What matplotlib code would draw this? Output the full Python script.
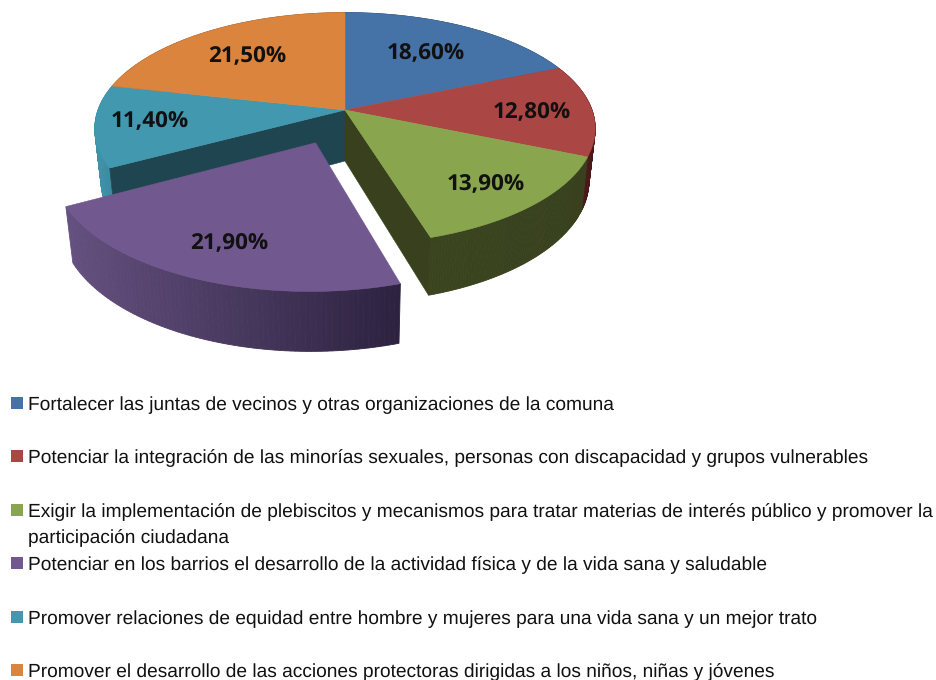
import numpy as np
import matplotlib
matplotlib.use("Agg")
import matplotlib.pyplot as plt
from matplotlib.patches import Polygon, Rectangle
from matplotlib.colors import to_rgb

plt.rcParams["text.hinting"] = "no_hinting"

# ---- data ----
shares = [18.6, 12.8, 13.9, 21.9, 11.4, 21.5]
value_labels = ["18,60%", "12,80%", "13,90%", "21,90%", "11,40%", "21,50%"]
categories = [
    "Fortalecer las juntas de vecinos y otras organizaciones de la comuna",
    "Potenciar la integración de las minorías sexuales, personas con discapacidad y grupos vulnerables",
    "Exigir la implementación de plebiscitos y mecanismos para tratar materias de interés público y promover la\nparticipación ciudadana",
    "Potenciar en los barrios el desarrollo de la actividad física y de la vida sana y saludable",
    "Promover relaciones de equidad entre hombre y mujeres para una vida sana y un mejor trato",
    "Promover el desarrollo de las acciones protectoras dirigidas a los niños, niñas y jóvenes",
]
# ---- style ----
top_colors = ["#4572A7", "#AA4643", "#89A54E", "#71588F", "#4198AF", "#DB843D"]
wall_left = ["#2b4668", "#5a1f1e", "#3a451f", "#64507F", "#3F93A9", "#8a5226"]
wall_right = ["#2b4668", "#4a1818", "#38401D", "#2D2240", "#3A8A9F", "#8a5226"]
inner_colors = {2: "#38401D", 4: "#1F4650"}
explode = [0, 0, 0, 0.30, 0, 0]
label_xy = [(426, 53), (532, 112), (486, 184), (229, 243), (150, 121), (247, 56)]
legend_y = [405, 458, 512, 565, 619, 672]
swatch_y = [403, 456, 510, 563, 617, 670]
LEGEND_SIZE = 13.8

CX, CY, A, B, P = 345, 110, 247, 113, 0.16


def project(u, v):
    w = 1 - P * v
    return CX + A * u / w, CY + B * v / w


def lower(x, y, v):
    return CX + (x - CX) * 0.975, y + 51 + 7 * np.asarray(v)


fig = plt.figure(figsize=(9.37, 6.8), dpi=100)
ax = fig.add_axes([0, 0, 1, 1])
ax.set_xlim(0, 937)
ax.set_ylim(680, 0)
ax.axis("off")

fracs = np.array(shares) / sum(shares)
edges = np.concatenate([[0], np.cumsum(fracs)]) * 2 * np.pi


def slice_geometry(i):
    t = np.linspace(edges[i], edges[i + 1], 80)
    mid = (edges[i] + edges[i + 1]) / 2
    du, dv = explode[i] * np.sin(mid), -explode[i] * np.cos(mid)
    u = np.sin(t) + du
    v = -np.cos(t) + dv
    return u, v, du, dv


def draw_wall(i, z):
    u, v, _, _ = slice_geometry(i)
    x, y = project(u, v)
    xb, yb = lower(x, y, v)
    c0, c1 = np.array(to_rgb(wall_left[i])), np.array(to_rgb(wall_right[i]))
    for k in range(len(u) - 1):
        s = (x[k] - x.min()) / max(x.max() - x.min(), 1)
        col = c0 + (c1 - c0) * s
        ax.add_patch(Polygon([(x[k], y[k]), (x[k + 1], y[k + 1]), (xb[k + 1], yb[k + 1]), (xb[k], yb[k])],
                             closed=True, fc=col, ec=col, lw=0.6, zorder=z))


def draw_top(i, z):
    u, v, du, dv = slice_geometry(i)
    x, y = project(u, v)
    ax0, ay0 = project(du, dv)
    pts = [(ax0, ay0)] + list(zip(x, y))
    ax.add_patch(Polygon(pts, closed=True, fc=top_colors[i], ec=top_colors[i], lw=0.4, zorder=z))


def draw_inner(i, end, z):
    u, v, _, _ = slice_geometry(i)
    k = 0 if end == "start" else -1
    x, y = project(u[k], v[k])
    xb, yb = lower(x, y, v[k])
    ax0, ay0 = project(0, 0)
    a0, a1 = lower(ax0, ay0, 0)
    col = inner_colors[i]
    ax.add_patch(Polygon([(ax0, ay0), (x, y), (xb, yb), (a0, a1)], closed=True, fc=col, ec=col, lw=0.4, zorder=z))


for i in [0, 1, 2, 4, 5]:
    draw_wall(i, 1)
draw_inner(4, "start", 2)
draw_inner(2, "end", 2)
for i in [0, 1, 2, 4, 5]:
    draw_top(i, 3)
draw_wall(3, 4)
draw_top(3, 5)

for (lx, ly), s in zip(label_xy, value_labels):
    ax.text(lx, ly, s, ha="center", va="center", fontsize=16.2, fontweight="bold",
            family="Open Sans", color="#111111", zorder=6)

for c, cat, ly, sy in zip(top_colors, categories, legend_y, swatch_y):
    ax.add_patch(Rectangle((11, sy - 6), 12, 12, fc=c, ec="none", zorder=6))
    if "\n" in cat:
        a, b = cat.split("\n")
        ax.text(28, ly, a, ha="left", va="center", fontsize=LEGEND_SIZE, family="Liberation Sans", color="#111111")
        ax.text(28, ly + 26, b, ha="left", va="center", fontsize=LEGEND_SIZE, family="Liberation Sans", color="#111111")
    else:
        ax.text(28, ly, cat, ha="left", va="center", fontsize=LEGEND_SIZE, family="Liberation Sans", color="#111111")

fig.savefig("out.png", dpi=100)
